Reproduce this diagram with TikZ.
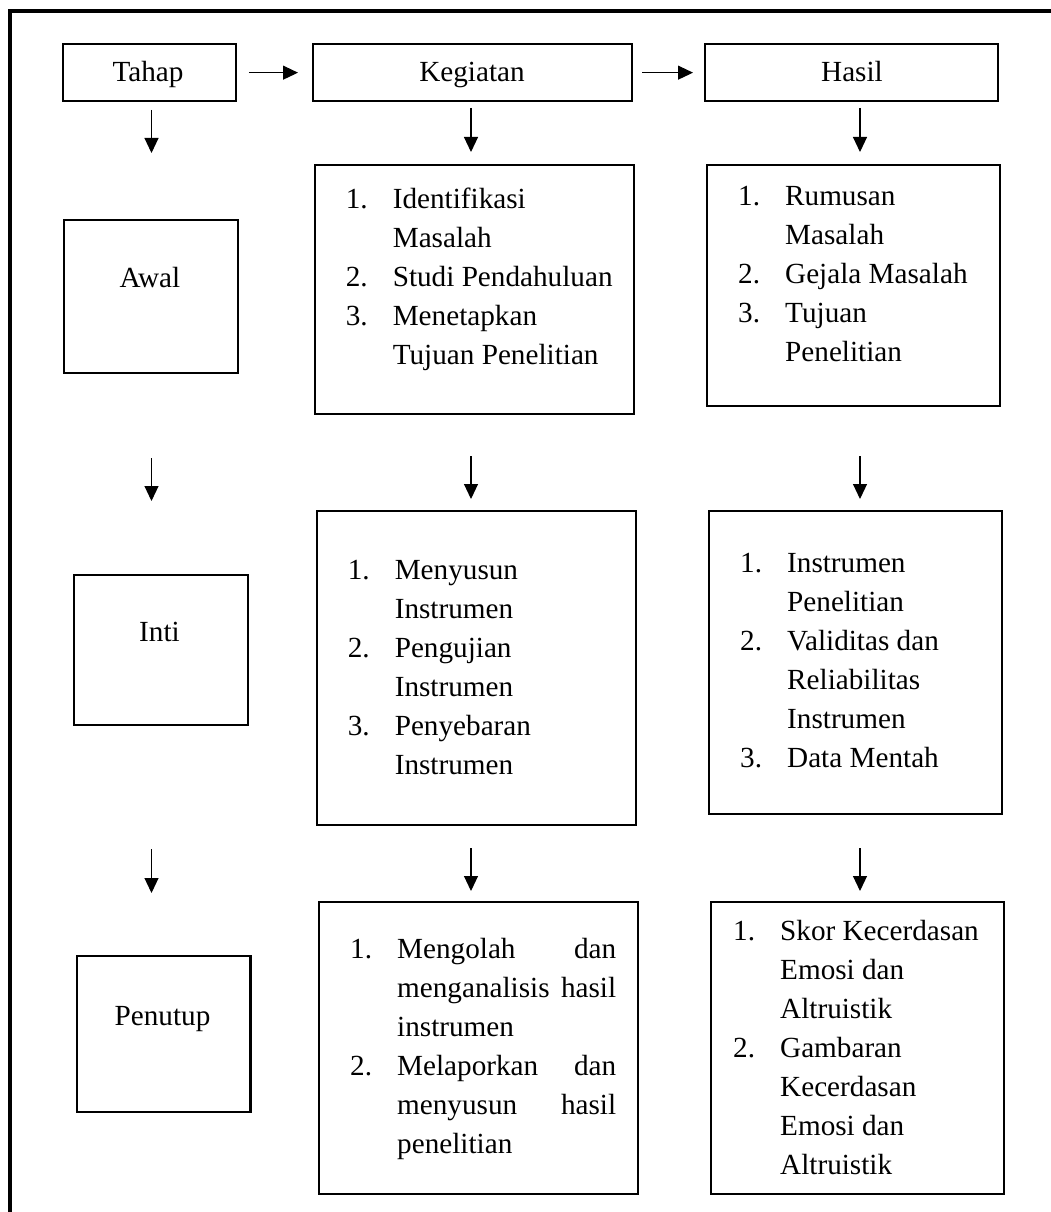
\documentclass[tikz,border=0pt]{standalone}
\usepackage{fontspec}
\setmainfont{Liberation Serif}
\usetikzlibrary{arrows.meta}
\newcommand{\diagfont}{\fontsize{29.2}{39}\selectfont}
\newcommand{\itm}[1]{\makebox[47pt][l]{#1}}
\newcommand{\ind}{\hspace*{47pt}}
\begin{document}
\begin{tikzpicture}[x=1pt,y=-1pt,
  box/.style={draw,line width=2.3pt,inner sep=0pt,anchor=north west},
  arr/.style={line width=1.1pt,-{Triangle[length=15pt,width=14pt]}},
  lbl/.style={inner sep=0pt,anchor=base,font=\diagfont},
  lst/.style={inner sep=0pt,anchor=base west,font=\diagfont}]
\useasboundingbox (0,0) rectangle (1051,1212);
% outer frame
\draw[line width=3.2pt] (1051,11) -- (10,11) -- (10,1212);

% header boxes
\node[box,minimum width=173pt,minimum height=57pt] (tahap) at (62,43) {};
\node[box,minimum width=319pt,minimum height=57pt] (keg) at (312,43) {};
\node[box,minimum width=293pt,minimum height=57pt] (hasil) at (704,43) {};
\node[lbl] (ttahap) at (148,82) {Tahap};
\node[lbl] (tkeg) at (472,82) {Kegiatan};
\node[lbl] (thasil) at (852,82) {Hasil};

% stage boxes
\node[box,minimum width=173.5pt,minimum height=153pt] (awal) at (63,219) {};
\node[box,minimum width=173.5pt,minimum height=149.5pt] (inti) at (73,574) {};
\node[box,minimum width=173.5pt,minimum height=156pt] (penutup) at (75.7,955) {};
\node[lbl] (tawal) at (150,287) {Awal};
\node[lbl] (tinti) at (159.5,641) {Inti};
\node[lbl] (tpenutup) at (162.5,1025) {Penutup};

% kegiatan boxes
\node[box,minimum width=318.5pt,minimum height=249pt] (k1) at (314,164) {};
\node[box,minimum width=318.5pt,minimum height=314pt] (k2) at (316,510) {};
\node[box,minimum width=318.5pt,minimum height=292pt] (k3) at (318,901) {};

% hasil boxes
\node[box,minimum width=293pt,minimum height=241pt] (h1) at (706,164) {};
\node[box,minimum width=293pt,minimum height=303pt] (h2) at (708,510) {};
\node[box,minimum width=293pt,minimum height=292pt] (h3) at (710,901) {};

% list texts
\node[lst] (k1t) at (345.6,208) {\begin{minipage}[t]{280pt}
\itm{1.}Identifikasi\\
\ind Masalah\\
\itm{2.}Studi Pendahuluan\\
\itm{3.}Menetapkan\\
\ind Tujuan Penelitian
\end{minipage}};
\node[lst] (h1t) at (738,205) {\begin{minipage}[t]{250pt}
\itm{1.}Rumusan\\
\ind Masalah\\
\itm{2.}Gejala Masalah\\
\itm{3.}Tujuan\\
\ind Penelitian
\end{minipage}};
\node[lst] (k2t) at (347.6,579) {\begin{minipage}[t]{280pt}
\itm{1.}Menyusun\\
\ind Instrumen\\
\itm{2.}Pengujian\\
\ind Instrumen\\
\itm{3.}Penyebaran\\
\ind Instrumen
\end{minipage}};
\node[lst] (h2t) at (740,572) {\begin{minipage}[t]{250pt}
\itm{1.}Instrumen\\
\ind Penelitian\\
\itm{2.}Validitas dan\\
\ind Reliabilitas\\
\ind Instrumen\\
\itm{3.}Data Mentah
\end{minipage}};
\node[lst] (k3t) at (350,958) {\begin{minipage}[t]{280pt}
\itm{1.}\makebox[219pt][s]{Mengolah\hfill dan}\\
\ind\makebox[219pt][s]{menganalisis\hfill hasil}\\
\ind instrumen\\
\itm{2.}\makebox[219pt][s]{Melaporkan\hfill dan}\\
\ind\makebox[219pt][s]{menyusun\hfill hasil}\\
\ind penelitian
\end{minipage}};
\node[lst] (h3t) at (733,940) {\begin{minipage}[t]{260pt}
\itm{1.}Skor Kecerdasan\\
\ind Emosi dan\\
\ind Altruistik\\
\itm{2.}Gambaran\\
\ind Kecerdasan\\
\ind Emosi dan\\
\ind Altruistik
\end{minipage}};

% horizontal arrows
\draw[arr,shorten <=11.6pt,shorten >=14pt] (tahap.east) -- (keg.west);
\draw[arr,shorten <=9pt,shorten >=11pt] (keg.east) -- (hasil.west);

% vertical arrow end points
\coordinate (a1s) at (151.5,110); \coordinate (a1e) at (151.5,153);
\coordinate (a2s) at (151.5,458); \coordinate (a2e) at (151.5,501);
\coordinate (a3s) at (151.5,849); \coordinate (a3e) at (151.5,893);
\coordinate (b1s) at (471,108); \coordinate (b1e) at (471,152);
\coordinate (b2s) at (471,456); \coordinate (b2e) at (471,499);
\coordinate (b3s) at (471,848); \coordinate (b3e) at (471,891);
\coordinate (c1s) at (860,108); \coordinate (c1e) at (860,152);
\coordinate (c2s) at (860,456); \coordinate (c2e) at (860,499);
\coordinate (c3s) at (860,848); \coordinate (c3e) at (860,891);
\foreach \p in {a1,a2,a3,b1,b2,b3,c1,c2,c3}
  \draw[arr] (\p s) -- (\p e);
\end{tikzpicture}
\end{document}
